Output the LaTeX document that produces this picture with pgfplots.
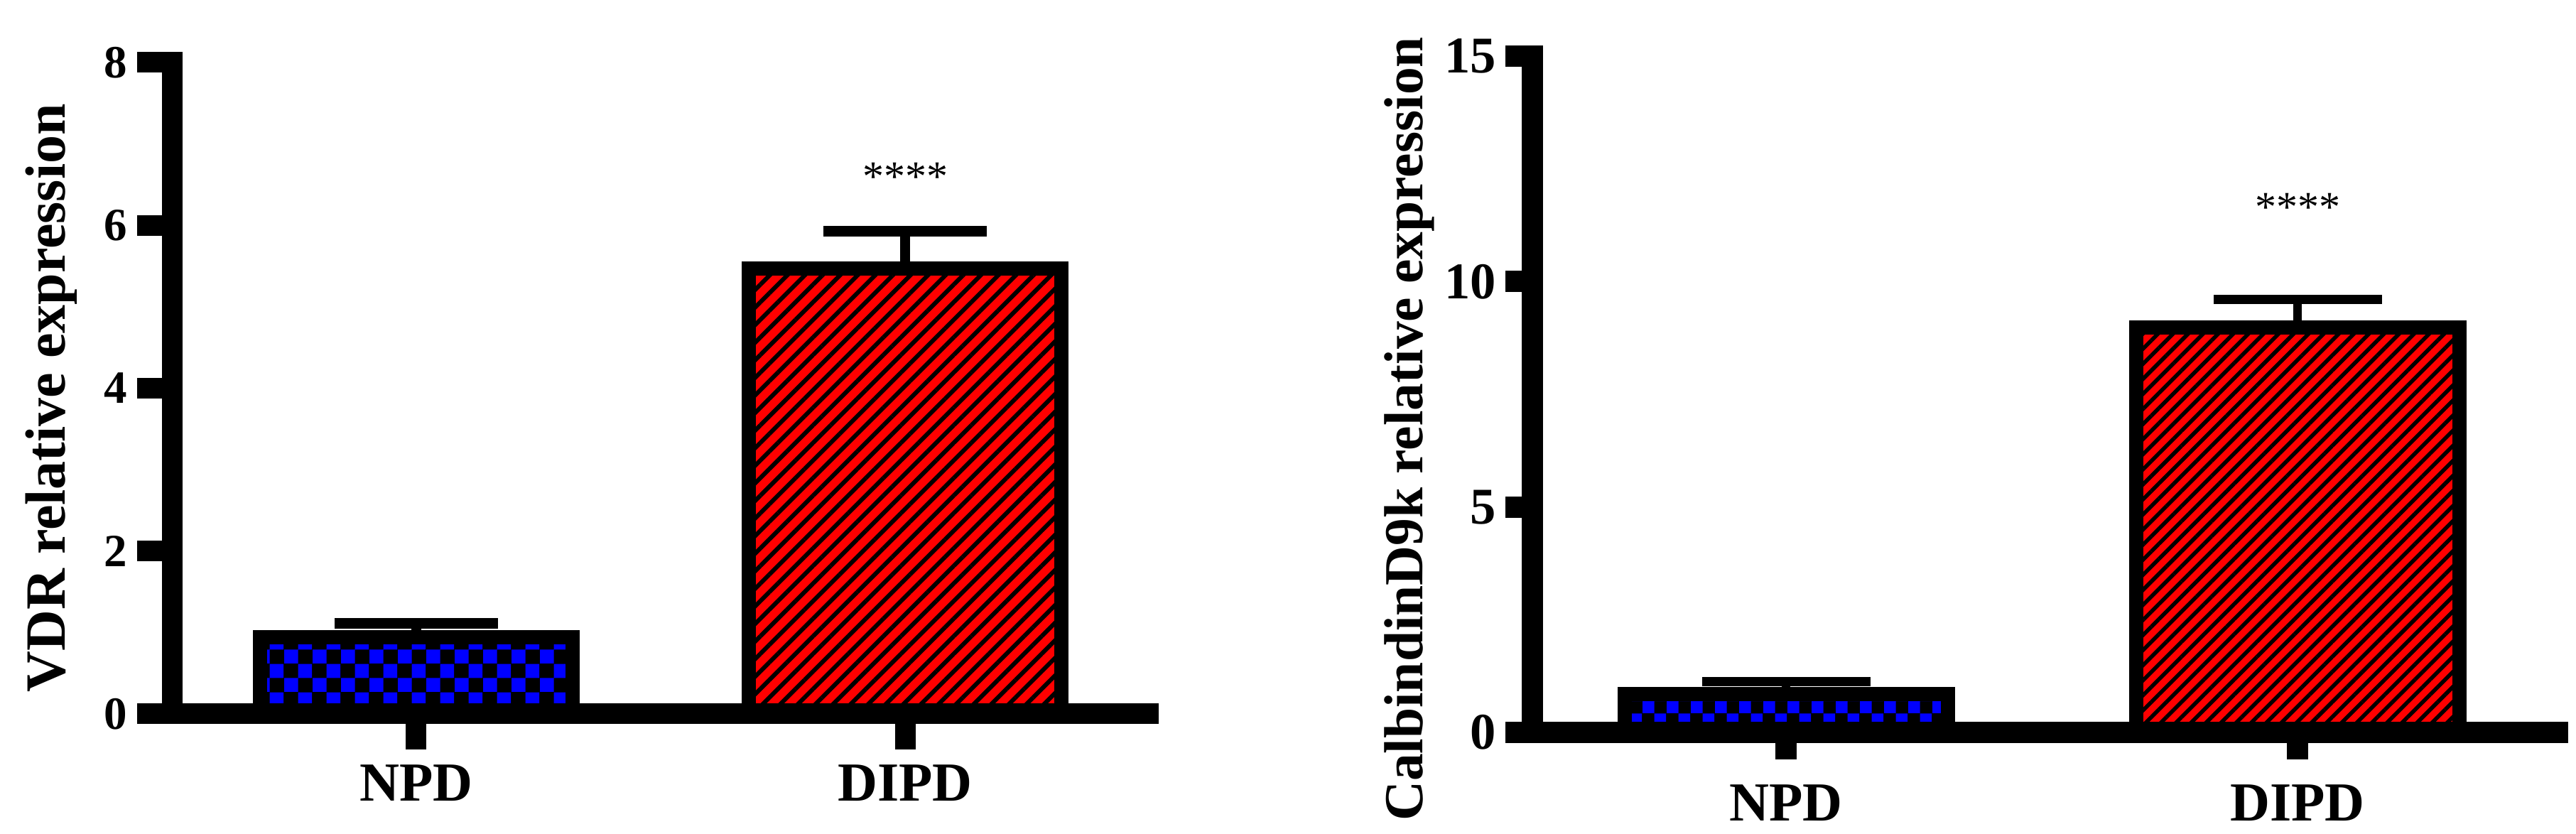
\documentclass[border=0pt]{standalone}
\usepackage{fontspec}
\setmainfont{Liberation Serif}
\usepackage{pgfplots}
\pgfplotsset{compat=1.18}
\usetikzlibrary{patterns,patterns.meta}

% blue/black checkerboard, two square sizes
\pgfdeclarepatternformonly{checkL}{\pgfpointorigin}{\pgfqpoint{8pt}{8pt}}{\pgfqpoint{8pt}{8pt}}{%
  \pgfpathrectangle{\pgfpointorigin}{\pgfqpoint{4pt}{4pt}}%
  \pgfpathrectangle{\pgfqpoint{4pt}{4pt}}{\pgfqpoint{4pt}{4pt}}%
  \pgfusepath{fill}}
\pgfdeclarepatternformonly{checkR}{\pgfpointorigin}{\pgfqpoint{6.8pt}{6.8pt}}{\pgfqpoint{6.8pt}{6.8pt}}{%
  \pgfpathrectangle{\pgfpointorigin}{\pgfqpoint{3.4pt}{3.4pt}}%
  \pgfpathrectangle{\pgfqpoint{3.4pt}{3.4pt}}{\pgfqpoint{3.4pt}{3.4pt}}%
  \pgfusepath{fill}}

\newcommand{\fs}[1]{\fontsize{#1}{#1}\selectfont}

\pgfplotsset{
  gp/.style={
    scale only axis, anchor=south west,
    axis lines=left,
    x axis line style={-}, y axis line style={-},
    axis on top, clip=false,
    tick align=outside,
    xtick={0,1}, xticklabels={NPD,DIPD},
    minor tick num=0,
    ymin=0,
    /pgf/number format/assume math mode=true,
    xticklabel style={anchor=north, inner sep=0pt},
    yticklabel style={anchor=east, inner sep=0pt, xshift=-2.5pt},
  },
}

\begin{document}
\begin{tikzpicture}
\useasboundingbox (0,0) rectangle (725.2pt,234.8pt);

% ---------- left: VDR ----------
\begin{axis}[gp,
  at={(48.6pt,33.8pt)},
  width=274.6pt, height=183.4pt,
  xmin=-0.4985, xmax=1.497, ymax=8,
  ytick={0,2,4,6,8},
  axis line style={line width=5.8pt, line cap=rect},
  major tick style={line width=5.8pt, black},
  major tick length=10pt,
  xticklabel style={font=\bfseries\fs{15.5}, yshift=-4.2pt},
  yticklabel style={font=\bfseries\fs{13}},
  ylabel={VDR relative expression},
  every axis y label/.style={at={(axis description cs:-0.1245,0.485)}, rotate=90, anchor=center, font=\bfseries\fs{16}},
]
\addplot[ybar, bar width=88pt, bar shift=0pt, draw=black, line width=4pt, fill=none,
  preaction={fill=black}, preaction={pattern=checkL, pattern color=blue},
  error bars/.cd, y dir=plus, y explicit,
  error bar style={line width=2.8pt, black},
  error mark options={rotate=90, mark size=23pt, line width=3pt, black}]
  coordinates {(0,0.94) +- (0,0.168)};
\addplot[ybar, bar width=88pt, bar shift=0pt, draw=black, line width=4pt, fill=none,
  preaction={fill=red}, preaction={pattern={Lines[angle=45,distance=3.5pt,line width=1.2pt]}, pattern color=black},
  error bars/.cd, y dir=plus, y explicit,
  error bar style={line width=2.8pt, black},
  error mark options={rotate=90, mark size=23pt, line width=3pt, black}]
  coordinates {(1,5.47) +- (0,0.455)};
\node[font=\fs{12}] at (axis cs:1,6.6) {****};
\end{axis}

% ---------- right: CalbindinD9k ----------
\begin{axis}[gp,
  at={(431.4pt,28.6pt)},
  width=288.6pt, height=190.4pt,
  xmin=-0.496, xmax=1.508, ymax=15,
  ytick={0,5,10,15},
  axis line style={line width=6pt, line cap=rect},
  major tick style={line width=6pt, black},
  major tick length=7.6pt,
  xticklabel style={font=\bfseries\fs{15.5}, yshift=-7pt},
  yticklabel style={font=\bfseries\fs{14.5}},
  ylabel={CalbindinD9k relative expression},
  every axis y label/.style={at={(axis description cs:-0.120,0.4485)}, rotate=90, anchor=center, font=\bfseries\fs{15.5}},
]
\addplot[ybar, bar width=91pt, bar shift=0pt, draw=black, line width=4pt, fill=none,
  preaction={fill=black}, preaction={pattern=checkR, pattern color=blue},
  error bars/.cd, y dir=plus, y explicit,
  error bar style={line width=2.4pt, black},
  error mark options={rotate=90, mark size=23.7pt, line width=2.6pt, black}]
  coordinates {(0,0.85) +- (0,0.27)};
\addplot[ybar, bar width=91pt, bar shift=0pt, draw=black, line width=4pt, fill=none,
  preaction={fill=red}, preaction={pattern={Lines[angle=45,distance=3pt,line width=1.1pt]}, pattern color=black},
  error bars/.cd, y dir=plus, y explicit,
  error bar style={line width=2.4pt, black},
  error mark options={rotate=90, mark size=23.7pt, line width=2.6pt, black}]
  coordinates {(1,8.98) +- (0,0.63)};
\node[font=\fs{12}] at (axis cs:1,11.65) {****};
\end{axis}
\end{tikzpicture}
\end{document}
